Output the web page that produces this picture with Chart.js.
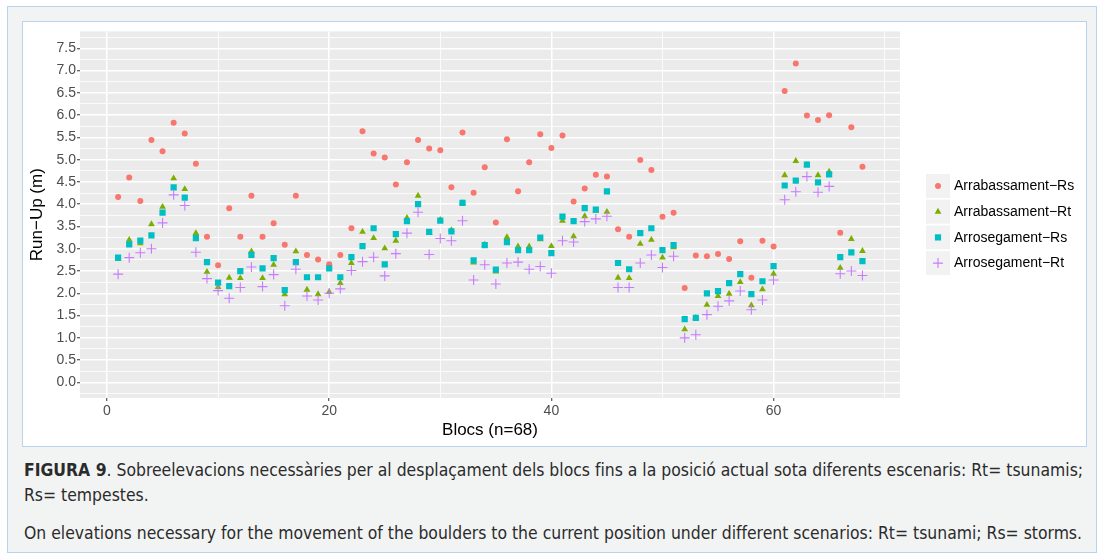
<!DOCTYPE html>
<html lang="ca">
<head>
<meta charset="UTF-8">
<title>Figura 9</title>
<script src="https://cdn.jsdelivr.net/npm/chart.js"></script>
<style>
  body { margin: 0; width: 1103px; height: 557px; overflow: hidden; position: relative; background: #fff; }
  #frame { position: absolute; left: 7px; top: 6px; width: 1090px; height: 547px; box-sizing: border-box;
           border: 1px solid #b9d3ee; background: #f2f4f4; }
  #plotbox { position: absolute; left: 14px; top: 14px; width: 1065px; height: 426px; box-sizing: border-box;
             border: 1px solid #b9d3ee; background: #fff; }
  #plotbox canvas { position: absolute; left: 0; top: 0; }
  .caption { position: absolute; left: 16px; margin: 0; white-space: nowrap; color: #2b2b2b;
             font-family: "DejaVu Sans Condensed", "Liberation Sans Narrow", sans-serif; font-size: 17.4px; line-height: 25px; }
</style>
</head>
<body>
<div id="frame">
  <div id="plotbox">
    <canvas id="chart" width="1063" height="424"></canvas>
  </div>
  <p class="caption" style="top: 451px;"><b>FIGURA 9</b>. Sobreelevacions necessàries per al desplaçament dels blocs fins a la posició actual sota diferents escenaris: Rt= tsunamis;<br>Rs= tempestes.</p>
  <p class="caption" style="top: 514px;">On elevations necessary for the movement of the boulders to the current position under different scenarios: Rt= tsunami; Rs= storms.</p>
</div>

<script>
// Blocs (eix x)
const blocs = [1, 2, 3, 4, 5, 6, 7, 8, 9, 10, 11, 12, 13, 14, 15, 16, 17, 18, 19, 20,
  21, 22, 23, 24, 25, 26, 27, 28, 29, 30, 31, 32, 33, 34, 35, 36, 37, 38, 39, 40,
  41, 42, 43, 44, 45, 46, 47, 48, 49, 50, 51, 52, 53, 54, 55, 56, 57, 58, 59, 60,
  61, 62, 63, 64, 65, 66, 67, 68];

// Run-Up (m) per escenari
const arrabassamentRs = [4.16, 4.60, 4.07, 5.44, 5.19, 5.83, 5.59, 4.91, 3.27, 2.63,
  3.91, 3.27, 4.19, 3.27, 3.57, 3.09, 4.19, 2.86, 2.76, 2.65,
  2.86, 3.46, 5.64, 5.14, 5.05, 4.44, 4.94, 5.44, 5.25, 5.21,
  4.38, 5.61, 4.26, 4.83, 3.59, 5.46, 4.29, 4.94, 5.57, 5.26,
  5.54, 4.06, 4.35, 4.66, 4.62, 3.44, 3.27, 4.99, 4.77, 3.72,
  3.81, 2.12, 2.85, 2.83, 2.88, 2.77, 3.17, 2.35, 3.18, 3.05,
  6.54, 7.16, 5.99, 5.89, 6.00, 3.36, 5.73, 4.84];
const arrabassamentRt = [2.77, 3.20, 3.12, 3.55, 3.94, 4.58, 4.34, 3.35, 2.48, 2.14,
  2.35, 2.34, 2.94, 2.34, 2.64, 1.98, 2.94, 2.08, 1.98, 2.03,
  2.23, 2.68, 3.38, 3.24, 3.01, 3.18, 3.69, 4.19, 3.36, 3.65,
  3.42, 4.03, 2.69, 3.09, 2.49, 3.26, 3.05, 3.05, 3.21, 3.06,
  3.63, 3.28, 3.73, 3.85, 3.83, 2.35, 2.34, 3.11, 3.20, 2.80,
  3.03, 1.19, 1.45, 1.74, 1.94, 1.99, 2.25, 1.73, 2.09, 2.44,
  4.65, 4.97, 4.88, 4.65, 4.73, 2.57, 3.22, 2.95];
const arrosegamentRs = [2.80, 3.10, 3.18, 3.30, 3.81, 4.38, 4.15, 3.24, 2.70, 2.24,
  2.16, 2.50, 2.86, 2.56, 2.79, 2.07, 2.70, 2.36, 2.36, 2.56,
  2.36, 2.81, 3.06, 3.46, 2.65, 3.33, 3.62, 4.00, 3.38, 3.63,
  3.39, 4.03, 2.74, 3.08, 2.53, 3.15, 2.97, 2.97, 3.25, 2.90,
  3.72, 3.62, 3.91, 3.88, 4.29, 2.68, 2.54, 3.35, 3.46, 2.97,
  3.08, 1.42, 1.45, 2.00, 2.05, 2.23, 2.43, 1.98, 2.27, 2.61,
  4.42, 4.53, 4.89, 4.49, 4.67, 2.81, 2.92, 2.72];
const arrosegamentRt = [2.43, 2.80, 2.91, 3.00, 3.58, 4.21, 3.97, 2.92, 2.33, 2.06,
  1.89, 2.13, 2.59, 2.15, 2.42, 1.72, 2.54, 1.94, 1.85, 2.00,
  2.10, 2.51, 2.71, 2.81, 2.39, 2.89, 3.35, 3.82, 2.87, 3.23,
  3.18, 3.63, 2.30, 2.64, 2.21, 2.68, 2.70, 2.54, 2.60, 2.45,
  3.18, 3.15, 3.61, 3.67, 3.73, 2.13, 2.13, 2.68, 2.86, 2.58,
  2.83, 1.00, 1.07, 1.52, 1.71, 1.83, 2.05, 1.63, 1.85, 2.30,
  4.10, 4.28, 4.62, 4.27, 4.40, 2.44, 2.50, 2.40];

const seriesNames = ['Arrabassament\u2212Rs', 'Arrabassament\u2212Rt', 'Arrosegament\u2212Rs', 'Arrosegament\u2212Rt'];

// Etiquetes dels eixos
const xTickLabels = [0, 20, 40, 60];
const yTickLabels = [0.0, 0.5, 1.0, 1.5, 2.0, 2.5, 3.0, 3.5, 4.0, 4.5, 5.0, 5.5, 6.0, 6.5, 7.0, 7.5];

// línies de graella secundàries (entre les principals)
const xGrid = [0, 10, 20, 30, 40, 50, 60, 70];
const yGrid = [];
yTickLabels.forEach(v => { yGrid.push(v - 0.25, v); });
yGrid.push(7.75);

const fontFamily = '"Liberation Sans", Arial, sans-serif';

function punts(valors) {
  return blocs.map((b, i) => ({ x: b, y: valors[i] }));
}

function esMajorX(v) { return xTickLabels.includes(v); }
function esMajorY(v) { return yTickLabels.some(t => Math.abs(t - v) < 1e-6); }

// fons gris del panell (estil ggplot)
const panelBg = {
  id: 'panelBg',
  beforeDraw(chart) {
    const { ctx, chartArea: a } = chart;
    ctx.save();
    ctx.fillStyle = '#EBEBEB';
    ctx.fillRect(a.left, a.top, a.right - a.left, a.bottom - a.top);
    ctx.restore();
  }
};

// llegenda amb caixes grises
const ggLegend = {
  id: 'ggLegend',
  afterDraw(chart) {
    const ctx = chart.ctx;
    const x0 = chart.chartArea.right + 26;
    const y0 = 152;
    const step = 25.7;
    const box = 24;
    ctx.save();
    chart.data.datasets.forEach((ds, i) => {
      const y = y0 + i * step;
      ctx.fillStyle = '#F2F2F2';
      ctx.fillRect(x0, y, box, box);
      ctx.fillStyle = ds.backgroundColor;
      ctx.strokeStyle = ds.borderColor;
      ctx.lineWidth = ds.pointBorderWidth;
      Chart.helpers.drawPoint(ctx, {
        pointStyle: ds.pointStyle, radius: ds.pointRadius,
        borderWidth: ds.pointBorderWidth, rotation: 0
      }, x0 + box / 2, y + box / 2);
      ctx.fillStyle = '#000000';
      ctx.font = '14px ' + fontFamily;
      ctx.textBaseline = 'middle';
      ctx.textAlign = 'left';
      ctx.fillText(ds.label, x0 + box + 4, y + box / 2 + 0.5);
    });
    ctx.restore();
  }
};

new Chart(document.getElementById('chart'), {
  type: 'scatter',
  data: {
    datasets: [{
      label: seriesNames[0],
      data: punts(arrabassamentRs),
      pointStyle: 'circle', pointRadius: 3, pointBorderWidth: 0,
      backgroundColor: '#F8766D', borderColor: '#F8766D', order: 4
    }, {
      label: seriesNames[1],
      data: punts(arrabassamentRt),
      pointStyle: 'triangle', pointRadius: 3.9, pointBorderWidth: 0,
      backgroundColor: '#7CAE00', borderColor: '#7CAE00', order: 3
    }, {
      label: seriesNames[2],
      data: punts(arrosegamentRs),
      pointStyle: 'rect', pointRadius: 4.4, pointBorderWidth: 0,
      backgroundColor: '#00BFC4', borderColor: '#00BFC4', order: 2
    }, {
      label: seriesNames[3],
      data: punts(arrosegamentRt),
      pointStyle: 'cross', pointRadius: 5, pointBorderWidth: 1.1,
      backgroundColor: '#C77CFF', borderColor: '#C77CFF', order: 1
    }]
  },
  options: {
    responsive: false,
    animation: false,
    events: [],
    devicePixelRatio: 1,
    layout: { padding: { left: 0, right: 186, top: 8, bottom: 0 } },
    plugins: { legend: { display: false }, tooltip: { enabled: false } },
    scales: {
      x: {
        type: 'linear',
        min: -2.43,
        max: 71.38,
        afterBuildTicks: s => { s.ticks = xGrid.map(v => ({ value: v })); },
        afterFit: s => { s.height = 48; },
        border: { display: false },
        grid: {
          color: '#FFFFFF',
          lineWidth: c => esMajorX(c.tick.value) ? 1.5 : 0.8,
          tickColor: c => esMajorX(c.tick.value) ? '#333333' : 'rgba(0,0,0,0)',
          tickLength: 3,
          tickWidth: 1
        },
        ticks: {
          autoSkip: false,
          maxRotation: 0,
          padding: 2,
          color: '#4D4D4D',
          font: { family: fontFamily, size: 14 },
          callback: v => esMajorX(v) ? String(v) : ''
        },
        title: {
          display: true,
          text: 'Blocs (n=68)',
          color: '#000000',
          font: { family: fontFamily, size: 17 },
          padding: { top: 0, bottom: 5 }
        }
      },
      y: {
        type: 'linear',
        min: -0.351,
        max: 7.88,
        afterBuildTicks: s => { s.ticks = yGrid.map(v => ({ value: v })); },
        afterFit: s => { s.width = 57; },
        border: { display: false },
        grid: {
          color: '#FFFFFF',
          lineWidth: c => esMajorY(c.tick.value) ? 1.5 : 0.8,
          tickColor: c => esMajorY(c.tick.value) ? '#333333' : 'rgba(0,0,0,0)',
          tickLength: 3,
          tickWidth: 1
        },
        ticks: {
          autoSkip: false,
          padding: 1,
          color: '#4D4D4D',
          font: { family: fontFamily, size: 14 },
          callback: v => esMajorY(v) ? v.toFixed(1) : ''
        },
        title: {
          display: true,
          text: 'Run\u2212Up (m)',
          color: '#000000',
          font: { family: fontFamily, size: 17 },
          padding: { top: 4, bottom: 0 }
        }
      }
    }
  },
  plugins: [panelBg, ggLegend]
});
</script>
</body>
</html>
